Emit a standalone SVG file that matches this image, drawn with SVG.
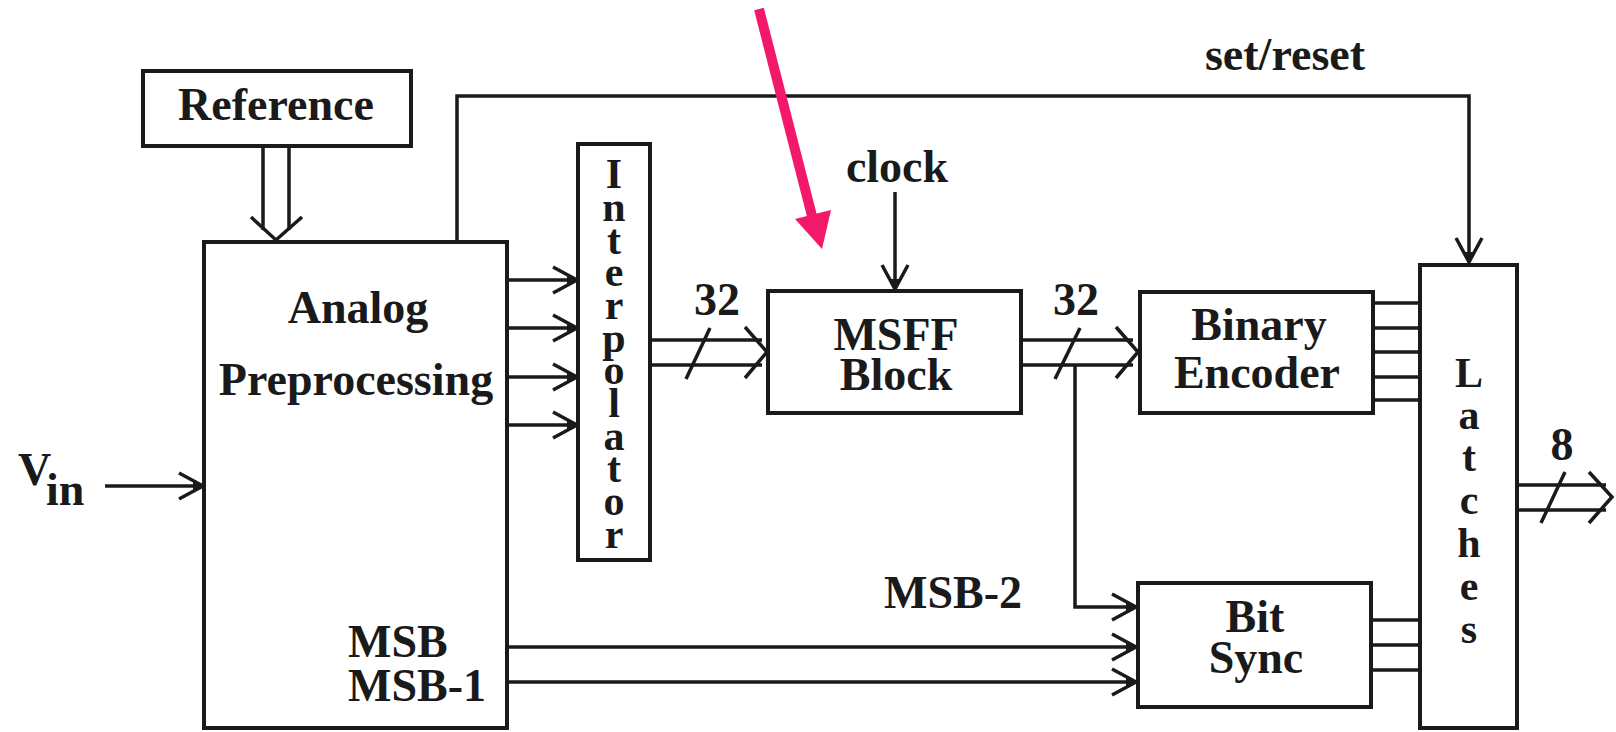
<svg xmlns="http://www.w3.org/2000/svg" width="1616" height="732" viewBox="0 0 1616 732">
<defs>
<style>
.box{fill:#fff;stroke:#1a1a1a;stroke-width:4}
.ln{fill:none;stroke:#1a1a1a;stroke-width:3.5}
.lbl{font-family:"Liberation Serif","Times New Roman",serif;font-weight:bold;font-size:46px;fill:#1a1a1a}
.mid{text-anchor:middle}
.vert{font-family:"Liberation Serif","Times New Roman",serif;font-weight:bold;font-size:42px;fill:#1a1a1a;text-anchor:middle}
</style>
<marker id="arr" markerUnits="userSpaceOnUse" viewBox="-28 -16 30 32" refX="0" refY="0" markerWidth="30" markerHeight="32" orient="auto" overflow="visible">
<path d="M-24,-13 L0,0 L-24,13" fill="none" stroke="#1a1a1a" stroke-width="3.5"/>
<path d="M-10,-5 L1,0 L-10,5 Z" fill="#1a1a1a"/>
</marker>
</defs>
<rect width="1616" height="732" fill="#fff"/>

<g id="connectors">
<path class="ln" d="M263,146 V230 M289,146 V230"/>
<path class="ln" d="M251,217 L276,240 L302,217"/>
<path class="ln" d="M457,242 V96 H1469 V262" stroke-width="4" marker-end="url(#arr)"/>
<path class="ln" d="M105,486 H203" marker-end="url(#arr)"/>
<path class="ln" d="M507,280 H577" marker-end="url(#arr)"/>
<path class="ln" d="M507,328 H577" marker-end="url(#arr)"/>
<path class="ln" d="M507,377 H577" marker-end="url(#arr)"/>
<path class="ln" d="M507,425 H577" marker-end="url(#arr)"/>
<path class="ln" d="M650,340 H762 M650,365 H762"/>
<path class="ln" d="M745,327 L767,352 L745,378"/>
<path class="ln" d="M686,379 L710,328"/>
<path class="ln" d="M895,192 V289" marker-end="url(#arr)"/>
<path class="ln" d="M1021,340 H1133 M1021,365 H1133"/>
<path class="ln" d="M1116,327 L1138,352 L1116,378"/>
<path class="ln" d="M1055,379 L1080,328"/>
<path class="ln" d="M1075,365 V607 H1136" marker-end="url(#arr)"/>
<path class="ln" d="M507,647 H1136" marker-end="url(#arr)"/>
<path class="ln" d="M507,682 H1136" marker-end="url(#arr)"/>
<path class="ln" d="M1373,303 H1420 M1373,328 H1420 M1373,352 H1420 M1373,377 H1420 M1373,400 H1420"/>
<path class="ln" d="M1371,620 H1420 M1371,645 H1420 M1371,670 H1420"/>
<path class="ln" d="M1517,485 H1606 M1517,510 H1606"/>
<path class="ln" d="M1589,472 L1612,497 L1589,523"/>
<path class="ln" d="M1541,523 L1565,472"/>
</g>

<g id="reference">
<rect class="box" x="143" y="71" width="268" height="75"/>
<text class="lbl mid" x="276" y="120" font-size="47">Reference</text>
</g>

<g id="analog-preprocessing">
<rect class="box" x="204" y="242" width="303" height="486"/>
<text class="lbl mid" x="358" y="323">Analog</text>
<text class="lbl mid" x="356" y="395">Preprocessing</text>
<text class="lbl" x="348" y="657">MSB</text>
<text class="lbl" x="348" y="701">MSB-1</text>
</g>

<g id="interpolator">
<rect class="box" x="578" y="144" width="72" height="416" stroke-width="3.5"/>
<text class="vert" x="614" y="188">I</text>
<text class="vert" x="614" y="221">n</text>
<text class="vert" x="614" y="254">t</text>
<text class="vert" x="614" y="286">e</text>
<text class="vert" x="614" y="319">r</text>
<text class="vert" x="614" y="352">p</text>
<text class="vert" x="614" y="384">o</text>
<text class="vert" x="614" y="417">l</text>
<text class="vert" x="614" y="450">a</text>
<text class="vert" x="614" y="482">t</text>
<text class="vert" x="614" y="515">o</text>
<text class="vert" x="614" y="548">r</text>
</g>

<g id="msff-block">
<rect class="box" x="768" y="291" width="253" height="122"/>
<text class="lbl mid" x="896" y="350">MSFF</text>
<text class="lbl mid" x="896" y="390">Block</text>
</g>

<g id="binary-encoder">
<rect class="box" x="1140" y="292" width="233" height="121"/>
<text class="lbl mid" x="1259" y="340">Binary</text>
<text class="lbl mid" x="1257" y="388">Encoder</text>
</g>

<g id="latches">
<rect class="box" x="1420" y="265" width="97" height="463"/>
<text class="vert" x="1469" y="387" font-size="44">L</text>
<text class="vert" x="1469" y="429" font-size="44">a</text>
<text class="vert" x="1469" y="471" font-size="44">t</text>
<text class="vert" x="1469" y="514" font-size="44">c</text>
<text class="vert" x="1469" y="557" font-size="44">h</text>
<text class="vert" x="1469" y="600" font-size="44">e</text>
<text class="vert" x="1469" y="643" font-size="44">s</text>
</g>

<g id="bit-sync">
<rect class="box" x="1138" y="583" width="233" height="124"/>
<text class="lbl mid" x="1255" y="632">Bit</text>
<text class="lbl mid" x="1256" y="673">Sync</text>
</g>

<g id="labels">
<text class="lbl mid" x="1285" y="70" font-size="48">set/reset</text>
<text class="lbl mid" x="897" y="182">clock</text>
<text class="lbl mid" x="717" y="315">32</text>
<text class="lbl mid" x="1076" y="315">32</text>
<text class="lbl mid" x="1562" y="460">8</text>
<text class="lbl" x="884" y="608">MSB-2</text>
<text class="lbl" x="18" y="485" font-size="48">V</text>
<text class="lbl" x="46" y="505">in</text>
</g>

<g id="highlight-arrow">
<line x1="759" y1="9" x2="812" y2="216" stroke="#F2196B" stroke-width="10"/>
<polygon points="795,219 831,210 822,249" fill="#F2196B"/>
</g>
</svg>
